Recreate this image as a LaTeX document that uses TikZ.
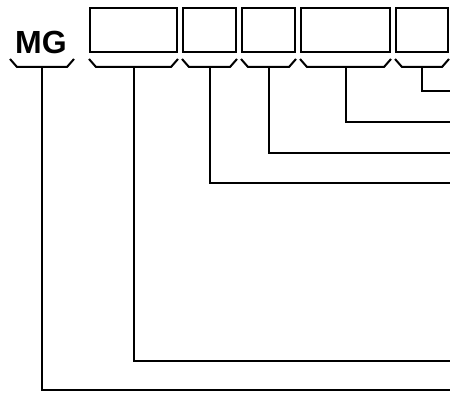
\documentclass[tikz,border=0pt]{standalone}
\usepackage{fontspec}
\newfontfamily\labelfont{Liberation Sans}
\begin{document}
\begin{tikzpicture}[x=1pt,y=-1pt,line width=2pt]
    \tikzset{field/.style={draw,minimum height=44pt,inner sep=0pt}}
    \useasboundingbox (0,0) rectangle (450,393);
    \node[font=\labelfont\bfseries\fontsize{32}{32}\selectfont] (mg) at (41,42) {MG};
    \node[field,minimum width=87pt] (f1) at (133.5,30) {};
    \node[field,minimum width=53pt] (f2) at (209.5,30) {};
    \node[field,minimum width=53pt] (f3) at (268.5,30) {};
    \node[field,minimum width=89pt] (f4) at (345.5,30) {};
    \node[field,minimum width=52pt] (f5) at (422,30) {};
    % brackets under each field
    \foreach \a/\b/\n in {10/74/mg, 89/178/f1, 182/237/f2, 241/296/f3, 300/391/f4, 395/449/f5} {
      \draw (\a,59) -- (\a+7,67) -- (\b-7,67) -- (\b,59);
      \coordinate (\n-b) at ({(\a+\b)/2},67);
    }
    % leads out to the right
    \foreach \n/\y in {mg/390, f1/361, f2/183, f3/153, f4/122, f5/91} {
      \coordinate (\n-e) at (450,\y);
      \draw (\n-b) |- (\n-e);
    }
\end{tikzpicture}
\end{document}
